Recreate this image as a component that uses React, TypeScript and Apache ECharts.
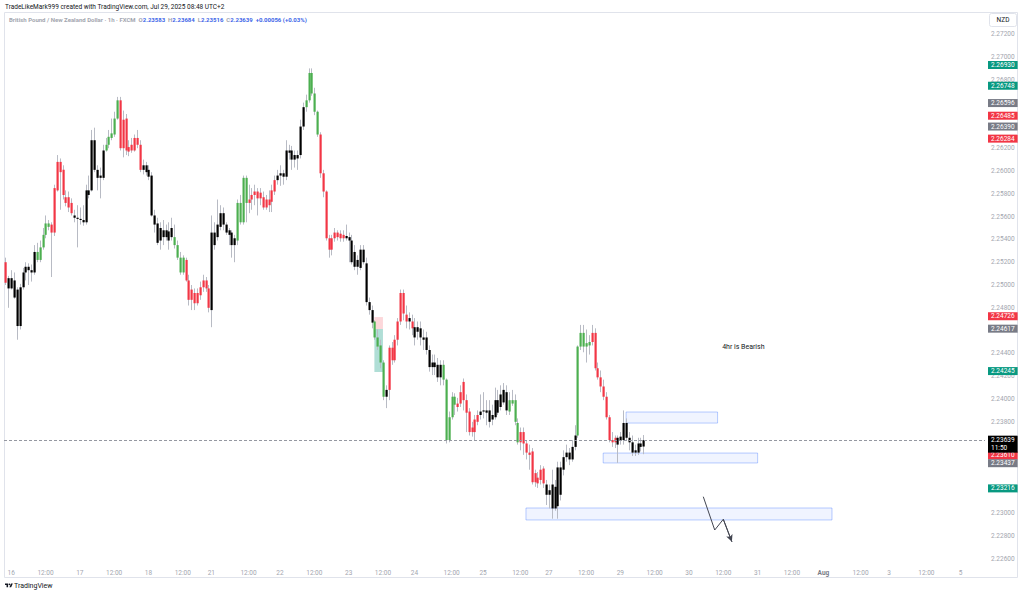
import React, { useEffect, useRef } from 'react';
import * as echarts from 'echarts';

// [open, high, low, close] hourly candles, GBP/NZD
const bars: number[][] = [
  [2.2520, 2.2524, 2.2500, 2.2502], [2.2506, 2.2508, 2.2480, 2.2497], [2.2497, 2.2513, 2.2496, 2.2506], [2.2504, 2.2511, 2.2488, 2.2489],
  [2.2496, 2.2498, 2.2452, 2.2464], [2.2464, 2.2501, 2.2461, 2.2498], [2.2498, 2.2515, 2.2496, 2.2511], [2.2511, 2.2520, 2.2504, 2.2516],
  [2.2516, 2.2519, 2.2500, 2.2513], [2.2513, 2.2518, 2.2503, 2.2511], [2.2511, 2.2535, 2.2509, 2.2529], [2.2522, 2.2537, 2.2520, 2.2529],
  [2.2522, 2.2539, 2.2520, 2.2533], [2.2533, 2.2550, 2.2531, 2.2544], [2.2544, 2.2561, 2.2541, 2.2554], [2.2551, 2.2557, 2.2548, 2.2554],
  [2.2553, 2.2555, 2.2507, 2.2546], [2.2546, 2.2588, 2.2543, 2.2585], [2.2583, 2.2614, 2.2582, 2.2608], [2.2608, 2.2611, 2.2566, 2.2599],
  [2.2601, 2.2605, 2.2575, 2.2579], [2.2577, 2.2583, 2.2569, 2.2572], [2.2577, 2.2582, 2.2564, 2.2568], [2.2572, 2.2576, 2.2561, 2.2563],
  [2.2561, 2.2566, 2.2555, 2.2559], [2.2559, 2.2570, 2.2533, 2.2558], [2.2558, 2.2568, 2.2553, 2.2557], [2.2557, 2.2570, 2.2552, 2.2555],
  [2.2555, 2.2588, 2.2553, 2.2583], [2.2583, 2.2596, 2.2576, 2.2579], [2.2583, 2.2636, 2.2582, 2.2627], [2.2627, 2.2638, 2.2599, 2.2601],
  [2.2601, 2.2605, 2.2583, 2.2594], [2.2594, 2.2603, 2.2576, 2.2596], [2.2594, 2.2623, 2.2592, 2.2618], [2.2618, 2.2629, 2.2617, 2.2623],
  [2.2623, 2.2636, 2.2620, 2.2630], [2.2629, 2.2646, 2.2627, 2.2633], [2.2632, 2.2652, 2.2630, 2.2646], [2.2646, 2.2665, 2.2645, 2.2662],
  [2.2662, 2.2665, 2.2618, 2.2620], [2.2620, 2.2653, 2.2612, 2.2645], [2.2646, 2.2650, 2.2614, 2.2618], [2.2621, 2.2627, 2.2613, 2.2617],
  [2.2618, 2.2629, 2.2616, 2.2623], [2.2618, 2.2632, 2.2617, 2.2629], [2.2629, 2.2636, 2.2620, 2.2623], [2.2623, 2.2627, 2.2599, 2.2601],
  [2.2601, 2.2610, 2.2597, 2.2605], [2.2605, 2.2608, 2.2596, 2.2599], [2.2601, 2.2605, 2.2592, 2.2595], [2.2596, 2.2599, 2.2560, 2.2561],
  [2.2561, 2.2566, 2.2546, 2.2553], [2.2554, 2.2559, 2.2535, 2.2537], [2.2539, 2.2555, 2.2531, 2.2550], [2.2548, 2.2557, 2.2535, 2.2542],
  [2.2542, 2.2553, 2.2539, 2.2548], [2.2547, 2.2555, 2.2531, 2.2539], [2.2542, 2.2559, 2.2539, 2.2550], [2.2542, 2.2553, 2.2532, 2.2535],
  [2.2535, 2.2539, 2.2522, 2.2524], [2.2524, 2.2529, 2.2509, 2.2511], [2.2511, 2.2526, 2.2509, 2.2524], [2.2522, 2.2524, 2.2503, 2.2504],
  [2.2504, 2.2509, 2.2482, 2.2487], [2.2487, 2.2500, 2.2478, 2.2496], [2.2493, 2.2497, 2.2478, 2.2484], [2.2484, 2.2497, 2.2482, 2.2493],
  [2.2491, 2.2503, 2.2487, 2.2498], [2.2498, 2.2509, 2.2494, 2.2504], [2.2504, 2.2507, 2.2494, 2.2497], [2.2497, 2.2500, 2.2476, 2.2480],
  [2.2478, 2.2561, 2.2463, 2.2546], [2.2546, 2.2555, 2.2531, 2.2535], [2.2542, 2.2575, 2.2539, 2.2553], [2.2551, 2.2570, 2.2548, 2.2563],
  [2.2563, 2.2568, 2.2548, 2.2553], [2.2553, 2.2555, 2.2544, 2.2546], [2.2548, 2.2550, 2.2535, 2.2544], [2.2546, 2.2548, 2.2524, 2.2535],
  [2.2535, 2.2544, 2.2520, 2.2541], [2.2539, 2.2575, 2.2535, 2.2572], [2.2572, 2.2579, 2.2553, 2.2555], [2.2555, 2.2596, 2.2553, 2.2594],
  [2.2594, 2.2596, 2.2555, 2.2572], [2.2572, 2.2588, 2.2563, 2.2575], [2.2575, 2.2585, 2.2566, 2.2579], [2.2579, 2.2588, 2.2570, 2.2582],
  [2.2582, 2.2585, 2.2561, 2.2576], [2.2576, 2.2585, 2.2570, 2.2581], [2.2577, 2.2582, 2.2566, 2.2568], [2.2568, 2.2579, 2.2566, 2.2575],
  [2.2575, 2.2583, 2.2564, 2.2570], [2.2573, 2.2588, 2.2564, 2.2583], [2.2582, 2.2596, 2.2579, 2.2592], [2.2592, 2.2601, 2.2588, 2.2596],
  [2.2596, 2.2605, 2.2587, 2.2598], [2.2598, 2.2601, 2.2588, 2.2595], [2.2595, 2.2627, 2.2592, 2.2618], [2.2618, 2.2623, 2.2610, 2.2616],
  [2.2618, 2.2622, 2.2601, 2.2610], [2.2610, 2.2618, 2.2603, 2.2614], [2.2614, 2.2618, 2.2601, 2.2611], [2.2614, 2.2645, 2.2611, 2.2639],
  [2.2639, 2.2660, 2.2636, 2.2656], [2.2656, 2.2667, 2.2652, 2.2662], [2.2662, 2.2690, 2.2660, 2.2686], [2.2686, 2.2690, 2.2666, 2.2668],
  [2.2668, 2.2673, 2.2649, 2.2652], [2.2652, 2.2653, 2.2630, 2.2632], [2.2632, 2.2634, 2.2594, 2.2598], [2.2598, 2.2601, 2.2577, 2.2582],
  [2.2582, 2.2583, 2.2539, 2.2541], [2.2541, 2.2544, 2.2524, 2.2531], [2.2531, 2.2544, 2.2526, 2.2541], [2.2546, 2.2550, 2.2538, 2.2541],
  [2.2546, 2.2548, 2.2539, 2.2542], [2.2545, 2.2548, 2.2538, 2.2541], [2.2544, 2.2548, 2.2538, 2.2541], [2.2541, 2.2553, 2.2539, 2.2543],
  [2.2542, 2.2546, 2.2520, 2.2539], [2.2539, 2.2544, 2.2518, 2.2520], [2.2529, 2.2535, 2.2513, 2.2516], [2.2516, 2.2526, 2.2509, 2.2522],
  [2.2515, 2.2535, 2.2513, 2.2531], [2.2531, 2.2535, 2.2518, 2.2520], [2.2519, 2.2524, 2.2482, 2.2485], [2.2485, 2.2489, 2.2474, 2.2478],
  [2.2478, 2.2482, 2.2462, 2.2467], [2.2468, 2.2469, 2.2452, 2.2454], [2.2454, 2.2461, 2.2443, 2.2446], [2.2447, 2.2452, 2.2427, 2.2432],
  [2.2432, 2.2434, 2.2399, 2.2402], [2.2402, 2.2412, 2.2392, 2.2408], [2.2408, 2.2447, 2.2399, 2.2445], [2.2445, 2.2450, 2.2430, 2.2434],
  [2.2434, 2.2456, 2.2432, 2.2452], [2.2452, 2.2471, 2.2447, 2.2468], [2.2468, 2.2496, 2.2465, 2.2493], [2.2493, 2.2496, 2.2469, 2.2475],
  [2.2474, 2.2482, 2.2462, 2.2468], [2.2468, 2.2476, 2.2461, 2.2471], [2.2468, 2.2474, 2.2456, 2.2462], [2.2463, 2.2471, 2.2447, 2.2454],
  [2.2459, 2.2468, 2.2452, 2.2463], [2.2462, 2.2468, 2.2447, 2.2454], [2.2454, 2.2461, 2.2443, 2.2452], [2.2454, 2.2459, 2.2439, 2.2443],
  [2.2443, 2.2447, 2.2424, 2.2428], [2.2428, 2.2439, 2.2421, 2.2432], [2.2432, 2.2439, 2.2421, 2.2428], [2.2430, 2.2436, 2.2415, 2.2419],
  [2.2419, 2.2434, 2.2412, 2.2430], [2.2430, 2.2434, 2.2412, 2.2417], [2.2417, 2.2418, 2.2361, 2.2364], [2.2364, 2.2389, 2.2362, 2.2384],
  [2.2384, 2.2406, 2.2382, 2.2402], [2.2402, 2.2405, 2.2386, 2.2395], [2.2396, 2.2401, 2.2389, 2.2393], [2.2396, 2.2412, 2.2393, 2.2406],
  [2.2415, 2.2418, 2.2390, 2.2399], [2.2399, 2.2404, 2.2371, 2.2388], [2.2389, 2.2392, 2.2368, 2.2371], [2.2371, 2.2380, 2.2367, 2.2375],
  [2.2382, 2.2386, 2.2364, 2.2371], [2.2380, 2.2390, 2.2377, 2.2386], [2.2386, 2.2404, 2.2382, 2.2389], [2.2389, 2.2406, 2.2383, 2.2390],
  [2.2390, 2.2399, 2.2377, 2.2388], [2.2390, 2.2399, 2.2375, 2.2380], [2.2382, 2.2395, 2.2377, 2.2386], [2.2384, 2.2410, 2.2382, 2.2399],
  [2.2399, 2.2408, 2.2386, 2.2388], [2.2393, 2.2412, 2.2390, 2.2404], [2.2397, 2.2414, 2.2395, 2.2408], [2.2406, 2.2412, 2.2386, 2.2390],
  [2.2389, 2.2406, 2.2386, 2.2399], [2.2396, 2.2408, 2.2394, 2.2399], [2.2399, 2.2404, 2.2377, 2.2380], [2.2379, 2.2383, 2.2360, 2.2362],
  [2.2362, 2.2375, 2.2355, 2.2371], [2.2371, 2.2375, 2.2351, 2.2361], [2.2361, 2.2364, 2.2347, 2.2353], [2.2353, 2.2360, 2.2338, 2.2351],
  [2.2354, 2.2357, 2.2325, 2.2327], [2.2327, 2.2338, 2.2323, 2.2335], [2.2331, 2.2336, 2.2322, 2.2326], [2.2329, 2.2342, 2.2325, 2.2338],
  [2.2339, 2.2341, 2.2322, 2.2326], [2.2325, 2.2329, 2.2307, 2.2316], [2.2316, 2.2325, 2.2304, 2.2320], [2.2325, 2.2338, 2.2295, 2.2304],
  [2.2304, 2.2329, 2.2302, 2.2323], [2.2306, 2.2345, 2.2295, 2.2340], [2.2340, 2.2345, 2.2311, 2.2316], [2.2338, 2.2355, 2.2333, 2.2349],
  [2.2349, 2.2360, 2.2345, 2.2353], [2.2353, 2.2357, 2.2342, 2.2347], [2.2347, 2.2364, 2.2345, 2.2358], [2.2358, 2.2377, 2.2355, 2.2368],
  [2.2368, 2.2447, 2.2366, 2.2446], [2.2446, 2.2465, 2.2443, 2.2458], [2.2458, 2.2465, 2.2441, 2.2446], [2.2446, 2.2461, 2.2432, 2.2449],
  [2.2447, 2.2456, 2.2439, 2.2450], [2.2450, 2.2465, 2.2447, 2.2458], [2.2458, 2.2462, 2.2425, 2.2427], [2.2427, 2.2432, 2.2417, 2.2419],
  [2.2419, 2.2425, 2.2406, 2.2411], [2.2411, 2.2417, 2.2399, 2.2402], [2.2402, 2.2406, 2.2382, 2.2384], [2.2384, 2.2386, 2.2362, 2.2364],
  [2.2364, 2.2371, 2.2358, 2.2362], [2.2362, 2.2368, 2.2357, 2.2366], [2.2366, 2.2368, 2.2344, 2.2360], [2.2364, 2.2371, 2.2360, 2.2367],
  [2.2364, 2.2390, 2.2360, 2.2379], [2.2379, 2.2383, 2.2364, 2.2366], [2.2366, 2.2371, 2.2355, 2.2362], [2.2362, 2.2368, 2.2350, 2.2353],
  [2.2353, 2.2360, 2.2350, 2.2355], [2.2353, 2.2366, 2.2351, 2.2361], [2.2361, 2.2366, 2.2354, 2.2358], [2.23583, 2.23684, 2.23516, 2.23639],
];

// body colour code of each candle: g = green, r = red, k = black
const candleTones = [
  'r', 'kkkkkkkkkk', 'ggggg', 'rrrrrrrr', 'kkkkkkkkkkk', 'ggggg', 'rrrrrrrr', 'kkkkkkkkkkk', 'gggg', 'rrrrrrrrr',
  'kkkkkkkkk', 'gggg', 'rrrrrrrrrr', 'kkkkkkkkkk', 'ggggg', 'rrrrrrrrr', 'kkkkkkkkkk', 'gggg', 'k', 'rrrrrrr',
  'k', 'r', 'kkkkkkkkkk', 'ggggg', 'rrrrrrrr', 'kkkkkkkkkk', 'gggg', 'rrrrrrrrr', 'kkkkkkkkkkk', 'ggggg',
  'rrrrrrrrr', 'kkkkkkkkkk',
].join('');

const slotCount = 343; // hourly slots incl. future space
const xTicks: [number, string][] = [
  [2, '16'], [14, '12:00'], [26, '17'], [38, '12:00'], [50, '18'], [62, '12:00'], [72, '21'], [85, '12:00'],
  [96, '22'], [108, '12:00'], [120, '23'], [132, '12:00'], [143, '24'], [156, '12:00'], [167, '25'], [180, '12:00'],
  [190, '27'], [203, '12:00'], [215, '29'], [227, '12:00'], [239, '30'], [251, '12:00'], [263, '31'], [275, '12:00'],
  [286, 'Aug'], [299, '12:00'], [309, '3'], [322, '12:00'], [334, '5'],
];

const tagValues = [2.2693, 2.26748, 2.26596, 2.26485, 2.2639, 2.26284, 2.24726, 2.24617, 2.24245, 2.2361, 2.23437, 2.23216];
const tagTones = ['g', 'g', 'n', 'r', 'n', 'r', 'r', 'n', 'g', 'r', 'n', 'g'];
const lastPrice = 2.23639;
const countdown = '11:50';

// drawn zones: [fromSlot, toSlot, topPrice, bottomPrice]
const zones: number[][] = [
  [217, 249, 2.23886, 2.23789],
  [209, 263, 2.23526, 2.23439],
  [182, 289, 2.23044, 2.22939],
];
const riskBox = [129, 132, 2.24719, 2.24614];
const rewardBox = [129, 132, 2.24614, 2.24237];
const arrowPath: number[][] = [[244, 2.23143], [248, 2.22851], [251, 2.22945], [254, 2.22748]];
const noteText = '4hr is Bearish';
const notePoint = [258, 2.2446];

const headerLine = 'TradeLikeMark999 created with TradingView.com, Jul 29, 2025 08:48 UTC+2';
const symbolName = 'British Pound / New Zealand Dollar · 1h · FXCM';
const ohlcLabels = ['O', 'H', 'L', 'C'];
const ohlcValues = ['2.23583', '2.23684', '2.23516', '2.23639'];
const changeText = '+0.00056 (+0.03%)';

const FONT = 'Roboto, "Liberation Sans", Arial, sans-serif';
const toneHex: Record<string, string> = { g: '#4caf50', r: '#f23645', k: '#000000' };
const tagHex: Record<string, string> = { g: '#089981', r: '#f23645', n: '#787b86' };

const TV_LOGO = 'M14 22H7V11H0V4h14v18zM28 22h-8l7.5-18h8L28 22zM16 8a4 4 0 1 0 8 0a4 4 0 1 0 -8 0z';
echarts.graphic.registerShape('tvlogo', echarts.graphic.extendPath(TV_LOGO, {}));

export default function App() {
  const ref = useRef<HTMLDivElement>(null);

  useEffect(() => {
    if (!ref.current) return;
    const chart = echarts.init(ref.current, undefined, { renderer: 'svg' });
    const tickMap = new Map<number, string>(xTicks);
    const slots = Array.from({ length: slotCount }, (_, i) => String(i));

    const legendRich =
      `{g|${symbolName}}  ` +
      ohlcLabels.map((l, k) => `{g|${l}}{b|${ohlcValues[k]}}`).join('  ') +
      `  {b|${changeText}}`;

    // axis labels hidden where a price tag covers them completely
    const coveredBy = [...tagValues, lastPrice];
    const isCovered = (v: number) => coveredBy.some((t) => Math.abs(t - v) < 0.0004);

    // TradingView stacks colliding tags; vertical nudges in px
    const tagNudge: Record<number, number> = { 2.2361: 12 };

    const tagItems: any[] = tagValues.map((v, k) => ({
      yAxis: v,
      lineStyle: { color: 'rgba(0,0,0,0)', width: 1 },
      label: {
        backgroundColor: tagHex[tagTones[k]], formatter: v.toFixed(5),
        offset: [0, tagNudge[v] || 0],
      },
    }));
    tagItems.push({
      yAxis: lastPrice,
      lineStyle: { color: '#9598a1', type: [3, 2], width: 1 },
      label: {
        backgroundColor: '#000000', formatter: lastPrice.toFixed(5) + '\n' + countdown,
        offset: [0, 4], lineHeight: 8,
      },
    });
    const n = arrowPath.length;
    tagItems.push([
      { coord: arrowPath[n - 2], symbol: 'none' },
      {
        coord: arrowPath[n - 1], symbol: 'arrow', symbolSize: [5, 7],
        lineStyle: { color: '#434651', width: 1, type: 'solid' },
        label: { show: false },
      },
    ]);

    const boxStyle = { color: 'rgba(41,98,255,0.07)', borderColor: 'rgba(41,98,255,0.32)', borderWidth: 1 };
    const areaItems: any[] = zones.map((z) => [
      { coord: [z[0], z[2]], itemStyle: boxStyle },
      { coord: [z[1], z[3]] },
    ]);
    areaItems.push([{ coord: [riskBox[0], riskBox[2]], itemStyle: { color: 'rgba(242,54,69,0.2)' } }, { coord: [riskBox[1], riskBox[3]] }]);
    areaItems.push([{ coord: [rewardBox[0], rewardBox[2]], itemStyle: { color: 'rgba(8,153,129,0.32)' } }, { coord: [rewardBox[1], rewardBox[3]] }]);

    chart.setOption({
      animation: false,
      backgroundColor: '#ffffff',
      textStyle: { fontFamily: FONT },
      title: [
        {
          text: headerLine, left: 5, top: 3, padding: 0,
          textStyle: { fontSize: 6.5, fontWeight: 'normal', color: '#131722', fontFamily: FONT },
        },
        {
          text: legendRich, left: 9, top: 16, padding: 0,
          textStyle: {
            fontSize: 6, fontFamily: FONT,
            rich: {
              g: { color: '#a3a6af', fontSize: 6, fontFamily: FONT },
              b: { color: '#3d66e8', fontSize: 6, fontFamily: FONT },
            },
          },
        },
      ],
      grid: { left: 4, right: 39, top: 13, bottom: 29, containLabel: false },
      xAxis: {
        type: 'category', data: slots, boundaryGap: true,
        axisLine: { show: false }, axisTick: { show: false }, splitLine: { show: false },
        axisLabel: {
          interval: (i: number) => tickMap.has(i),
          formatter: (v: string) => {
            const t = tickMap.get(Number(v)) ?? '';
            return t === 'Aug' ? '{b|Aug}' : t;
          },
          color: '#a3a6af', fontSize: 6.5, margin: 4, fontFamily: FONT,
          rich: { b: { color: '#787b86', fontWeight: 'bold', fontSize: 6.5, fontFamily: FONT } },
        },
      },
      yAxis: {
        type: 'value', position: 'right', min: 2.22544, max: 2.27386, scale: true,
        splitNumber: 24, minInterval: 0.002, maxInterval: 0.002,
        axisLine: { show: false }, axisTick: { show: false }, splitLine: { show: false },
        axisLabel: {
          color: '#a3a6af', fontSize: 6.5, margin: 6, fontFamily: FONT,
          showMinLabel: false, showMaxLabel: false,
          formatter: (v: number) => (isCovered(v) ? '' : v.toFixed(5)),
        },
      },
      series: [
        {
          type: 'custom',
          clip: true,
          encode: { x: 0, y: [1, 2, 3, 4] },
          data: bars.map((b, i) => [i, b[0], b[1], b[2], b[3]]),
          renderItem: (params: any, api: any) => {
            const i = api.value(0);
            const pO = api.coord([i, api.value(1)]);
            const pH = api.coord([i, api.value(2)]);
            const pL = api.coord([i, api.value(3)]);
            const pC = api.coord([i, api.value(4)]);
            const x = Math.round(pO[0]);
            const top = Math.min(pO[1], pC[1]);
            const bot = Math.max(pO[1], pC[1]);
            const color = toneHex[candleTones[params.dataIndex]] || '#000';
            return {
              type: 'group',
              children: [
                { type: 'line', shape: { x1: x + 0.5, y1: pH[1], x2: x + 0.5, y2: pL[1] }, style: { stroke: '#b8bbc4', lineWidth: 1 } },
                { type: 'rect', shape: { x: x - 0.5, y: top, width: 2.2, height: Math.max(1, bot - top) }, style: { fill: color } },
              ],
            };
          },
        },
        {
          type: 'line',
          data: arrowPath,
          symbol: 'none',
          silent: true,
          color: '#434651',
          lineStyle: { color: '#434651', width: 1 },
          z: 4,
          markArea: { silent: true, data: areaItems },
          markLine: {
            silent: true,
            symbol: ['none', 'none'],
            precision: 5,
            label: {
              show: true, position: 'end', distance: 3, color: '#ffffff', fontSize: 6.5, lineHeight: 7,
              padding: [0.5, 3, 0.5, 3], fontFamily: FONT,
            },
            data: tagItems,
          },
        },
        {
          type: 'scatter',
          data: [notePoint],
          symbolSize: 1,
          silent: true,
          z: 5,
          itemStyle: { color: 'rgba(255,255,255,0)', opacity: 0 },
          label: {
            show: true, position: 'inside', formatter: noteText,
            color: '#131722', fontSize: 7, fontFamily: FONT, opacity: 1,
          },
        },
      ],
      graphic: [
        {
          type: 'rect', silent: true, z: -10,
          shape: { x: 4.5, y: 12.5, width: 1013, height: 565 },
          style: { fill: 'none', stroke: '#e0e3eb', lineWidth: 1 },
        },
        {
          type: 'rect', silent: true,
          shape: { x: 989.5, y: 13.5, width: 27, height: 13, r: 2 },
          style: { fill: '#ffffff', stroke: '#e0e3eb', lineWidth: 1 },
        },
        {
          type: 'text', silent: true, x: 1003, y: 20,
          style: { text: 'NZD', fill: '#131722', fontSize: 6.5, fontFamily: FONT, align: 'center', verticalAlign: 'middle' },
        },
        { type: 'tvlogo', x: 5, y: 582.5, scaleX: 0.22, scaleY: 0.22, style: { fill: '#131722' } },
        {
          type: 'text', silent: true, x: 14, y: 586,
          style: { text: 'TradingView', fill: '#131722', fontSize: 7, fontFamily: FONT, verticalAlign: 'middle' },
        },
      ],
    });
    return () => chart.dispose();
  }, []);

  return <div ref={ref} style={{ position: 'absolute', left: 0, top: 0, width: 1024, height: 594 }} />;
}
